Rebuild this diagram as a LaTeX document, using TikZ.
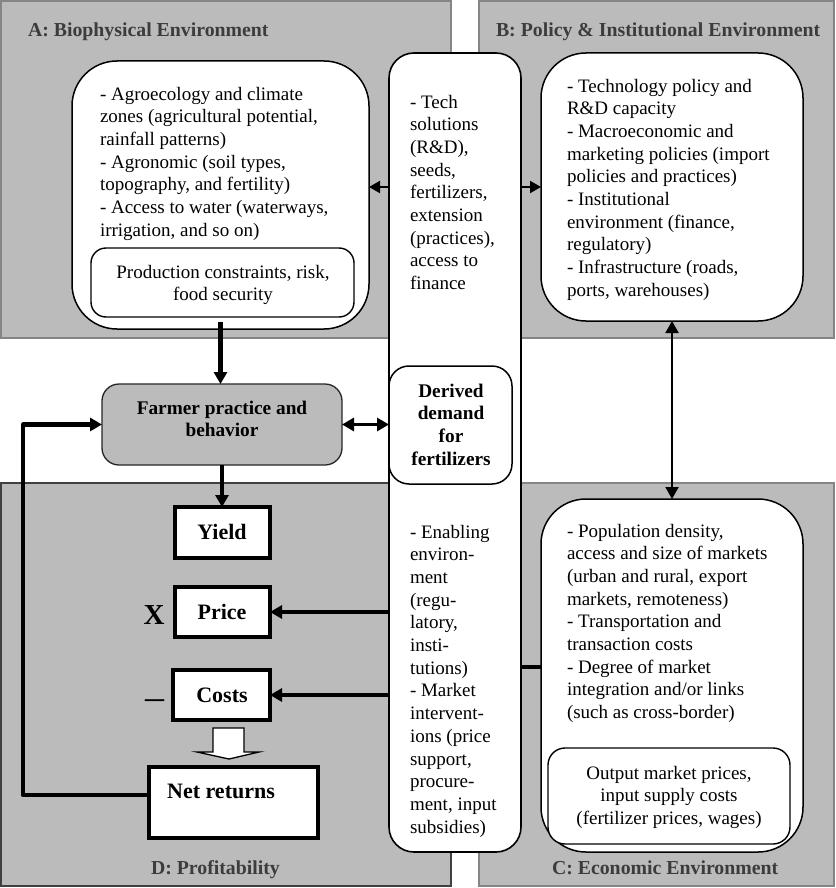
\documentclass[tikz,border=0pt]{standalone}
\usepackage{fontspec}
\setmainfont{Liberation Serif}
\usetikzlibrary{arrows.meta}
\definecolor{panelgray}{HTML}{BBBBBB}
\definecolor{edgegray}{HTML}{858585}
\definecolor{titlegray}{HTML}{3C3C3C}
\newcommand{\bodyfont}{\fontsize{19}{22.7}\selectfont}
\newcommand{\boldfont}{\fontsize{19.3}{22.7}\selectfont\bfseries}
\newcommand{\titlefont}{\fontsize{19.8}{22.7}\selectfont\bfseries}
\newcommand{\kpifont}{\fontsize{22}{22.7}\selectfont\bfseries}
% \bx{name}{x1}{y1}{x2}{y2}{style}{text}
\newcommand{\bx}[7]{%
  \pgfmathsetmacro{\bxcx}{(#2+#4)/2}\pgfmathsetmacro{\bxcy}{(#3+#5)/2}%
  \pgfmathsetmacro{\bxw}{#4-#2}\pgfmathsetmacro{\bxh}{#5-#3}%
  \node[#6,minimum width=\bxw pt,minimum height=\bxh pt] (#1) at (\bxcx,\bxcy) {#7};}
% \tl{name}{x}{first baseline}{style}{lines}
\newcommand{\tl}[5]{%
  \pgfmathsetmacro{\tly}{#3-16}%
  \node[#4] (#1) at (#2,\tly) {\rule{0pt}{17pt}#5};}
\tikzset{
  x=1pt,y=-1pt,
  every node/.style={inner sep=0pt,outer sep=0pt},
  panel/.style={fill=panelgray,draw=edgegray,line width=1.2pt},
  paneldark/.style={fill=panelgray,draw=black!75,line width=1.3pt},
  bigbox/.style={fill=white,draw=black,line width=1.5pt,rounded corners=45pt},
  smallbox/.style={fill=white,draw=black,line width=1.4pt,rounded corners=15pt},
  midbox/.style={fill=white,draw=black,line width=1.6pt,rounded corners=25pt},
  demandbox/.style={fill=white,draw=black,line width=1.5pt,rounded corners=20pt,align=center,font=\boldfont},
  farmerbox/.style={fill=panelgray,draw=black!85,line width=1.3pt,rounded corners=17pt},
  kpibox/.style={fill=white,draw=black,line width=3.8pt},
  bodyleft/.style={anchor=north west,align=left,font=\bodyfont},
  bodymid/.style={anchor=north,align=center,font=\bodyfont},
  boldmid/.style={anchor=north,align=center,font=\boldfont},
  titleleft/.style={anchor=north west,font=\titlefont,text=titlegray},
  kpilabel/.style={anchor=north,font=\kpifont},
  heavy/.style={line width=4.2pt,-{Triangle[length=12pt,width=13pt]}},
  heavyboth/.style={line width=3.6pt,{Triangle[length=12pt,width=13pt]}-{Triangle[length=12pt,width=13pt]}},
  lightone/.style={line width=2pt,-{Triangle[length=11pt,width=12pt]}},
  lightboth/.style={line width=2pt,{Triangle[length=12pt,width=13pt]}-{Triangle[length=12pt,width=13pt]}},
  medarrow/.style={line width=3.6pt,-{Triangle[length=12pt,width=13pt]}},
}
\begin{document}
\begin{tikzpicture}
\useasboundingbox (0,0) rectangle (835,888);
\fill[white] (0,0) rectangle (835,888);
% panels
\bx{panelA}{1}{1}{451}{338}{panel}{}
\bx{panelB}{479}{1}{834}{338}{panel}{}
\bx{panelD}{1}{483}{451}{886}{paneldark}{}
\bx{panelC}{479}{483}{834}{886}{panel}{}
\tl{titleA}{28}{36}{titleleft}{A: Biophysical Environment}
\tl{titleB}{496}{36}{titleleft}{B: Policy \& Institutional Environment}
\tl{titleC}{552}{873}{titleleft}{C: Economic Environment}
\tl{titleD}{151}{873}{titleleft}{D: Profitability}
% big boxes
\bx{aBox}{72}{61}{369}{329}{bigbox}{}
\bx{bBox}{541}{53}{803}{321}{bigbox}{}
\bx{cBox}{541}{499}{803}{852}{bigbox}{}
\bx{mid}{389}{53}{521}{852}{midbox}{}
\bx{aInner}{91}{248}{354}{317}{smallbox}{}
\bx{cInner}{548}{748}{790}{844}{smallbox,rounded corners=17pt}{}
\bx{demand}{389}{366}{512}{484}{demandbox}{}
\bx{farmer}{102}{384}{342}{465}{farmerbox}{}
\bx{yield}{175}{507}{270}{558}{kpibox}{}
\bx{price}{175}{587}{270}{637}{kpibox}{}
\bx{costs}{173}{670}{270}{720}{kpibox}{}
\bx{net}{149}{767}{318}{838}{kpibox}{}
% texts
\tl{aText}{100}{99}{bodyleft}{- Agroecology and climate\\zones (agricultural potential,\\rainfall patterns)\\- Agronomic (soil types,\\topography, and fertility)\\- Access to water (waterways,\\irrigation, and so on)}
\tl{aInnerText}{223}{277}{bodymid}{Production constraints, risk,\\food security}
\tl{bText}{567}{91}{bodyleft}{- Technology policy and\\R\&D capacity\\- Macroeconomic and\\marketing policies (import\\policies and practices)\\- Institutional\\environment (finance,\\regulatory)\\- Infrastructure (roads,\\ports, warehouses)}
\tl{cText}{567}{536}{bodyleft}{- Population density,\\access and size of markets\\(urban and rural, export\\markets, remoteness)\\- Transportation and\\transaction costs\\- Degree of market\\integration and/or links\\(such as cross-border)}
\tl{cInnerText}{669}{778}{bodymid}{Output market prices,\\input supply costs\\(fertilizer prices, wages)}
\tl{midTop}{410}{107}{bodyleft}{- Tech\\solutions\\(R\&D),\\seeds,\\fertilizers,\\extension\\(practices),\\access to\\finance}
\tl{midLow}{410}{537}{bodyleft}{- Enabling\\environ-\\ment\\(regu-\\latory,\\insti-\\tutions)\\- Market\\intervent-\\ions (price\\support,\\procure-\\ment, input\\subsidies)}
\tl{demandText}{451}{396}{boldmid}{Derived\\demand\\for\\fertilizers}
\tl{farmerText}{222}{413}{boldmid}{Farmer practice and\\behavior}
\tl{yieldText}{222}{538}{kpilabel}{Yield}
\tl{priceText}{222}{618}{kpilabel}{Price}
\tl{costsText}{222}{701}{kpilabel}{Costs}
\tl{netText}{221}{797}{kpilabel}{Net returns}
\node[font=\fontsize{29}{29}\selectfont\bfseries,anchor=base] (timesMark) at (154,624) {X};
\node[font=\fontsize{38}{38}\selectfont,anchor=base] (minusMark) at (154.5,709) {–};
% connectors
\draw[lightone] (mid.west |- 0,187) -- (aBox.east |- 0,187);
\draw[lightone] (mid.east |- 0,187) -- (bBox.west |- 0,187);
\draw[lightboth] (bBox.south -| 672,0) -- (cBox.north -| 672,0);
\draw[heavy] ([yshift=7pt]aBox.south) -- (farmer.north -| aBox.south);
\draw[heavyboth] (farmer.east |- 0,424.5) -- (mid.west |- 0,424.5);
\draw[heavy] (farmer.south) -- (yield.north -| farmer.south);
\draw[medarrow] (mid.west |- price.east) -- (price.east);
\draw[medarrow] (mid.west |- costs.east) -- (costs.east);
\draw[line width=3.6pt] (mid.east |- 0,667) -- (cBox.west |- 0,667);
\draw[heavy,line join=round] (net.west |- 0,795) -- (23,795) -- (23,424.5) -- (farmer.west |- 0,424.5);
% open arrow
\draw[fill=white,draw=black,line width=1.3pt,line join=miter]
  (213,728) -- (244,728) -- (244,752) -- (259,752) -- (229,759) -- (197,752) -- (213,752) -- cycle;
\end{tikzpicture}
\end{document}
